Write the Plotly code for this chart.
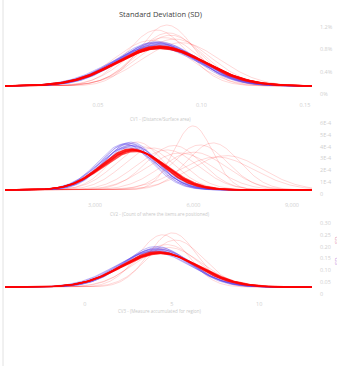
import numpy as np
import plotly.graph_objects as go

W, H = 337, 366

# ---------------- data ----------------
title_text = "Standard Deviation (SD)"

# Panel 1 (CV1)
p1_blue_means = [0.0785, 0.0775, 0.0790, 0.0780, 0.0795, 0.0770, 0.0800, 0.0785, 0.0775, 0.0790, 0.0805, 0.0780]
p1_blue_sds   = [0.0190, 0.0200, 0.0185, 0.0205, 0.0195, 0.0210, 0.0190, 0.0215, 0.0188, 0.0200, 0.0198, 0.0192]
p1_red_means  = [0.0800, 0.0805, 0.0795, 0.0810, 0.0800, 0.0798, 0.0802, 0.0808]
p1_red_sds    = [0.0211, 0.0215, 0.0208, 0.0213, 0.0218, 0.0205, 0.0220, 0.0210]
p1_faint_means = [0.0833, 0.0785, 0.0850, 0.0870, 0.0820, 0.0760, 0.0840, 0.0900]
p1_faint_sds   = [0.0135, 0.0147, 0.0162, 0.0175, 0.0170, 0.0180, 0.0155, 0.0190]
p1_xticks = [0.05, 0.10, 0.15]
p1_xticktext = ["0.05", "0.10", "0.15"]
p1_yticktext = ["0%", "0.4%", "0.8%", "1.2%"]
p1_xtitle = "CV1 - (Distance/Surface area)"

# Panel 2 (CV2)
p2_blue_means = [4005, 3950, 4100, 4050, 3900, 4150, 4000, 4080, 3980, 4120]
p2_blue_sds   = [803, 830, 790, 850, 820, 860, 880, 810, 900, 840]
p2_red_means  = [4158, 4200, 4120, 4180, 4230, 4100]
p2_red_sds    = [944, 960, 930, 950, 980, 920]
p2_faint_means = [5985, 6594, 6200, 5190, 4280, 5590, 4770, 6710, 5400, 6000, 4500, 7000]
p2_faint_sds   = [590, 803, 839, 944, 787, 1020, 900, 1144, 850, 1000, 880, 1100]
p2_xticks = [3000, 6000, 9000]
p2_xticktext = ["3,000", "6,000", "9,000"]
p2_yticktext = ["0", "1E-4", "2E-4", "3E-4", "4E-4", "5E-4", "6E-4"]
p2_xtitle = "CV2 - (Count of where the items are positioned)"

# Panel 3 (CV3)
p3_blue_means = [4.11, 4.00, 4.20, 4.05, 3.95, 4.15, 4.30, 3.90, 4.10, 4.25]
p3_blue_sds   = [1.96, 2.00, 1.90, 2.05, 2.10, 1.95, 2.00, 2.15, 1.85, 2.08]
p3_red_means  = [4.29, 4.35, 4.25, 4.30, 4.40, 4.20]
p3_red_sds    = [2.18, 2.20, 2.15, 2.22, 2.25, 2.12]
p3_faint_means = [5.03, 4.46, 4.69, 4.80, 4.30, 5.20]
p3_faint_sds   = [1.39, 1.44, 1.77, 1.90, 2.00, 1.60]
p3_xticks = [0, 5, 10]
p3_xticktext = ["0", "5", "10"]
p3_yticktext = ["0", "0.05", "0.10", "0.15", "0.20", "0.25", "0.30"]
p3_xtitle = "CV3 - (Measure accumulated for region)"

legend_labels = ["SD", "SD"]

# ---------------- layout geometry ----------------
def px_x(p):
    return p / W

def px_y(p):
    return 1 - p / H

xdom = [px_x(5), px_x(312)]
panels = [
    dict(ydom=(20, 100), xr=[0.0051, 0.1534], yr=[-6.8, 32.0], yr2=[-0.269, 3.313],
         blue=(p1_blue_means, p1_blue_sds), red=(p1_red_means, p1_red_sds),
         faint=(p1_faint_means, p1_faint_sds), xt=p1_xticks, xtt=p1_xticktext,
         ytt=p1_yticktext, title=p1_xtitle, title_y=114),
    dict(ydom=(118, 200), xr=[259, 9610], yr=[-1.06e-4, 7.6e-4], yr2=[-0.507, 6.423],
         blue=(p2_blue_means, p2_blue_sds), red=(p2_red_means, p2_red_sds),
         faint=(p2_faint_means, p2_faint_sds), xt=p2_xticks, xtt=p2_xticktext,
         ytt=p2_yticktext, title=p2_xtitle, title_y=214),
    dict(ydom=(218, 299), xr=[-4.57, 13.03], yr=[-0.0627, 0.366], yr2=[-0.417, 6.417],
         blue=(p3_blue_means, p3_blue_sds), red=(p3_red_means, p3_red_sds),
         faint=(p3_faint_means, p3_faint_sds), xt=p3_xticks, xtt=p3_xticktext,
         ytt=p3_yticktext, title=p3_xtitle, title_y=316),
]

def pdf(x, m, s):
    return np.exp(-0.5 * ((x - m) / s) ** 2) / (s * np.sqrt(2 * np.pi))

fig = go.Figure()
layout = {}
annotations = []
BLUE = "rgba(95,70,235,{a})"
RED = "rgba(255,0,0,{a})"

for i, p in enumerate(panels):
    k = i + 1
    xa = "x" if k == 1 else f"x{k}"
    ya = "y" if k == 1 else f"y{k}"
    ov = f"y{k + 3}"
    xs = np.linspace(p["xr"][0], p["xr"][1], 300)

    for m, s in zip(*p["faint"]):
        fig.add_trace(go.Scatter(x=xs, y=pdf(xs, m, s), mode="lines", xaxis=xa, yaxis=ya,
                                 line=dict(color=RED.format(a=0.22), width=0.7),
                                 showlegend=False, hoverinfo="skip"))
    for m, s in zip(*p["blue"]):
        fig.add_trace(go.Scatter(x=xs, y=pdf(xs, m, s), mode="lines", xaxis=xa, yaxis=ya,
                                 line=dict(color=BLUE.format(a=0.38), width=1.0),
                                 showlegend=False, hoverinfo="skip"))
    for m, s in zip(*p["red"]):
        fig.add_trace(go.Scatter(x=xs, y=pdf(xs, m, s), mode="lines", xaxis=xa, yaxis=ya,
                                 line=dict(color=RED.format(a=0.7), width=1.4),
                                 showlegend=False, hoverinfo="skip"))
    # invisible trace so the right-hand overlay axis renders
    fig.add_trace(go.Scatter(x=[p["xr"][0]], y=[0], mode="markers", xaxis=xa, yaxis=ov,
                             marker=dict(opacity=0), showlegend=False, hoverinfo="skip"))

    ydom = [px_y(p["ydom"][1]), px_y(p["ydom"][0])]
    layout["xaxis" if k == 1 else f"xaxis{k}"] = dict(
        domain=xdom, range=p["xr"], anchor=ya, showgrid=False, zeroline=False,
        showline=False, tickvals=p["xt"], ticktext=p["xtt"], ticks="",
        tickfont=dict(size=5.5, color="#d0d0d0", family="Open Sans"))
    layout["yaxis" if k == 1 else f"yaxis{k}"] = dict(
        domain=ydom, range=p["yr"], anchor=xa, showgrid=False, zeroline=False,
        showline=False, showticklabels=False)
    n = len(p["ytt"])
    layout[f"yaxis{k + 3}"] = dict(
        overlaying=ya, side="right", anchor=xa, range=p["yr2"], showgrid=False,
        zeroline=False, showline=False, tickvals=list(range(n)), ticktext=p["ytt"],
        ticks="", ticklabelstandoff=7,
        tickfont=dict(size=5.5, color="#d0d0d0", family="Open Sans"))
    annotations.append(dict(text=p["title"], x=px_x(160), y=px_y(p["title_y"]),
                            xref="paper", yref="paper", showarrow=False,
                            font=dict(size=4.5, color="#c8c8c8", family="Open Sans")))

annotations.append(dict(text=title_text, x=px_x(160), y=px_y(7), xref="paper", yref="paper",
                        showarrow=False, font=dict(size=7.5, color="#444", family="Open Sans")))
annotations.append(dict(text=legend_labels[0], x=px_x(331), y=px_y(240), xref="paper",
                        yref="paper", xanchor="left", textangle=-90, showarrow=False,
                        font=dict(size=6, color="rgba(200,60,120,0.6)", family="Open Sans")))
annotations.append(dict(text=legend_labels[1], x=px_x(331), y=px_y(267), xref="paper",
                        yref="paper", xanchor="left", textangle=-90, showarrow=False,
                        font=dict(size=6, color="rgba(150,60,200,0.6)", family="Open Sans")))

fig.update_layout(
    width=W, height=H, margin=dict(l=0, r=0, t=0, b=0),
    paper_bgcolor="white", plot_bgcolor="white",
    annotations=annotations,
    shapes=[dict(type="line", xref="paper", yref="paper", x0=px_x(3), x1=px_x(3),
                 y0=0, y1=1, line=dict(color="#e2e2e2", width=1))],
    **layout,
)

fig.write_html("out.html")
